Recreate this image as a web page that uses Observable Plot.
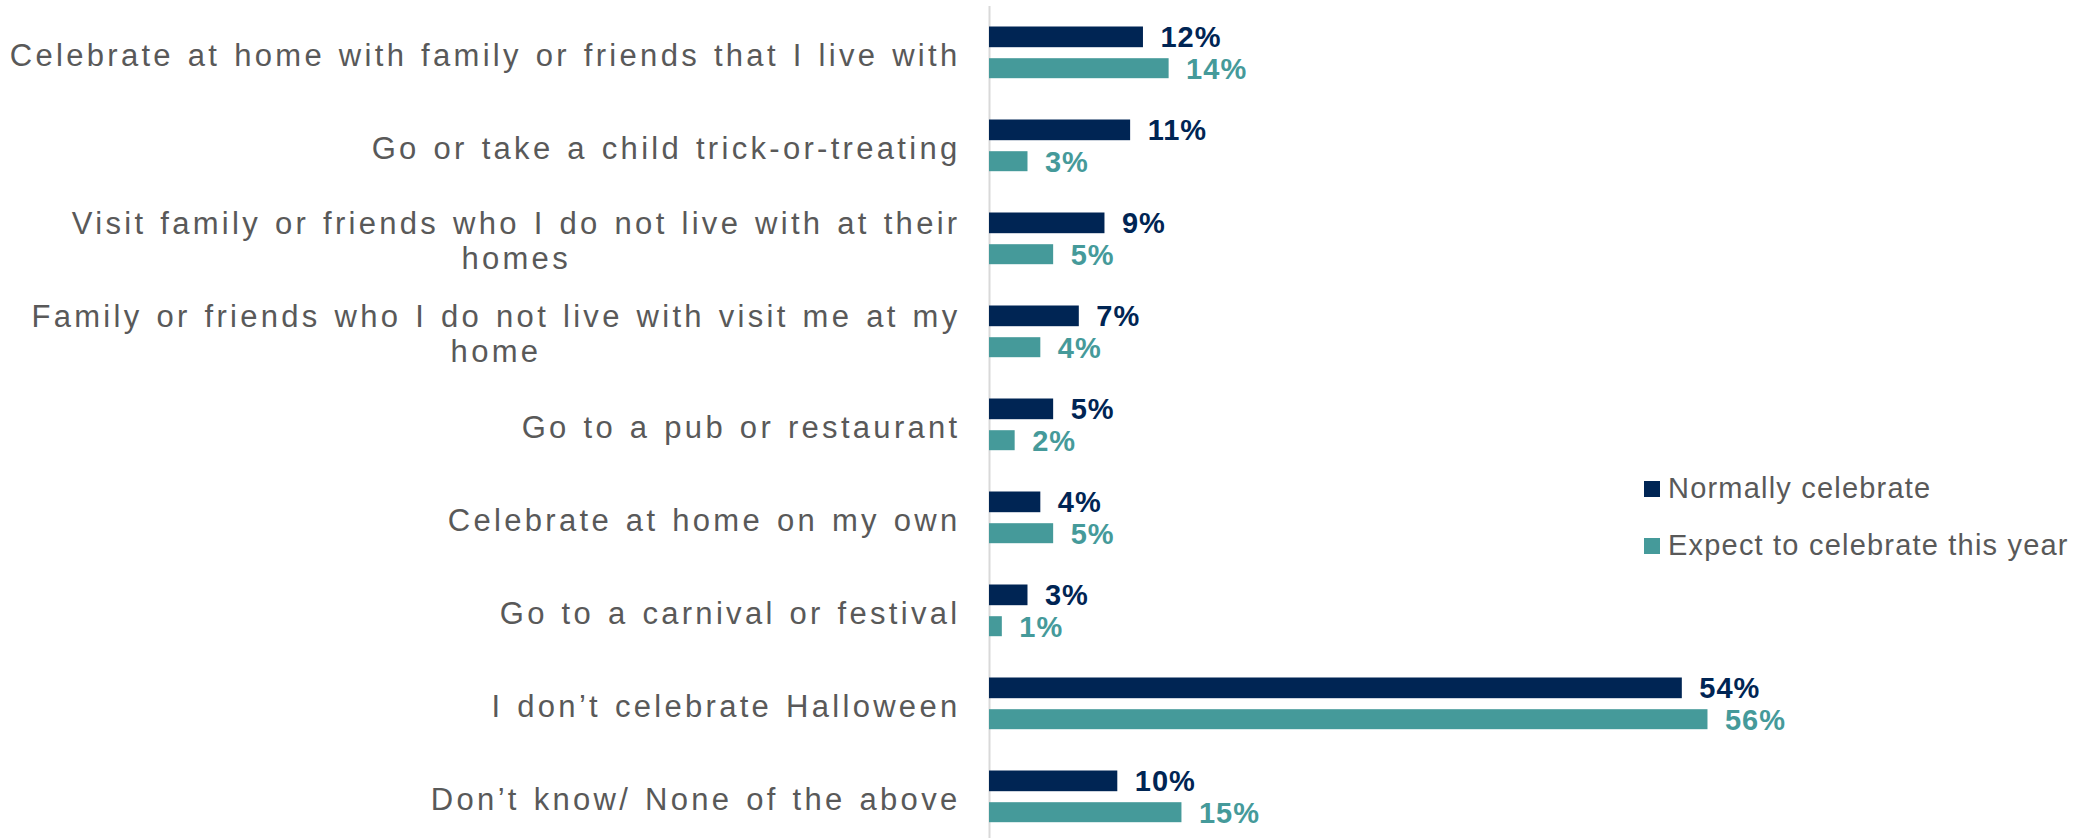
<!DOCTYPE html>
<html><head><meta charset="utf-8">
<script src="https://cdn.jsdelivr.net/npm/d3@7"></script>
<script src="https://cdn.jsdelivr.net/npm/@observablehq/plot@0.6"></script>
<style>
html,body{margin:0;padding:0;background:#fff;overflow:hidden}
#wrap{position:relative;width:2082px;height:838px}
#legend{position:absolute;left:1644px;top:460px;width:438px}
#legend > *{margin:0 !important;min-height:0 !important}
.lg-swatch{height:57px;padding:0 !important;margin:0 !important;display:flex;align-items:center}
.lg-swatch svg{margin-right:8px !important;flex-shrink:0}
</style></head><body><div id="wrap"><div id="chart"></div><div id="legend"></div></div>
<script>
const categories = [
  "Celebrate at home with family or friends that I live with",
  "Go or take a child trick-or-treating",
  "Visit family or friends who I do not live with at their\nhomes",
  "Family or friends who I do not live with visit me at my\nhome",
  "Go to a pub or restaurant",
  "Celebrate at home on my own",
  "Go to a carnival or festival",
  "I don\u2019t celebrate Halloween",
  "Don\u2019t know/ None of the above"
];
const normally = [12, 11, 9, 7, 5, 4, 3, 54, 10];
const expected = [14, 3, 5, 4, 2, 5, 1, 56, 15];
const series = ["Normally celebrate", "Expect to celebrate this year"];
const colors = ["#002554", "#459a9a"];

const FONT = '"Liberation Sans", Arial, sans-serif';
const rows = categories.map((c, i) => ({category: c, normal: normally[i], expect: expected[i]}));

const chart = Plot.plot({
  width: 2082, height: 838,
  marginLeft: 989, marginRight: 0, marginTop: 6, marginBottom: 0,
  style: {fontFamily: FONT, background: "transparent", overflow: "visible"},
  x: {domain: [0, 100], range: [989, 989 + 1283], axis: null},
  y: {domain: categories, range: [5.5, 842.5], padding: 0, axis: null},
  marks: [
    Plot.ruleX([0], {stroke: "#d9d9d9", strokeWidth: 2}),
    Plot.barX(rows, {x: "normal", y: "category", fill: colors[0], insetTop: 20.5, insetBottom: 51.8}),
    Plot.barX(rows, {x: "expect", y: "category", fill: colors[1], insetTop: 52.2, insetBottom: 20.8}),
    Plot.text(rows, {x: "normal", y: "category", text: d => d.normal + "%", dx: 17, dy: -15, textAnchor: "start",
      fill: colors[0], fontSize: 29, fontWeight: "bold"}),
    Plot.text(rows, {x: "expect", y: "category", text: d => d.expect + "%", dx: 17, dy: 16.5, textAnchor: "start",
      fill: colors[1], fontSize: 29, fontWeight: "bold"}),
    Plot.text(categories, {x: () => 0, y: d => d, text: d => d, dx: -29, dy: 1, textAnchor: "end",
      lineHeight: 1.16, fontSize: 31, fill: "#595959"})
  ]
});
document.getElementById("chart").appendChild(chart);

const textGroups = chart.querySelectorAll('g[aria-label="text"]');
// value labels
[textGroups[0], textGroups[1]].forEach(g => g && g.setAttribute("style", "letter-spacing:1px"));
// category labels: spaced text, wrapped lines centred within a right-aligned block
const catG = textGroups[2];
if (catG) {
  catG.setAttribute("style", "letter-spacing:3.3px;word-spacing:2px");
  catG.querySelectorAll("text").forEach(t => {
    const spans = t.querySelectorAll("tspan");
    if (spans.length < 2) return;
    const w = Math.max(...[...spans].map(s => s.getComputedTextLength()));
    t.setAttribute("text-anchor", "middle");
    spans.forEach(s => s.setAttribute("x", (+(s.getAttribute("x") || 0)) - w / 2));
  });
}

const legend = Plot.legend({
  color: {domain: series, range: colors},
  legend: "swatches", columns: 1, swatchSize: 16, className: "lg",
  style: {fontFamily: FONT, fontSize: "29px", color: "#595959", letterSpacing: "1.2px"}
});
document.getElementById("legend").appendChild(legend);
</script></body></html>
